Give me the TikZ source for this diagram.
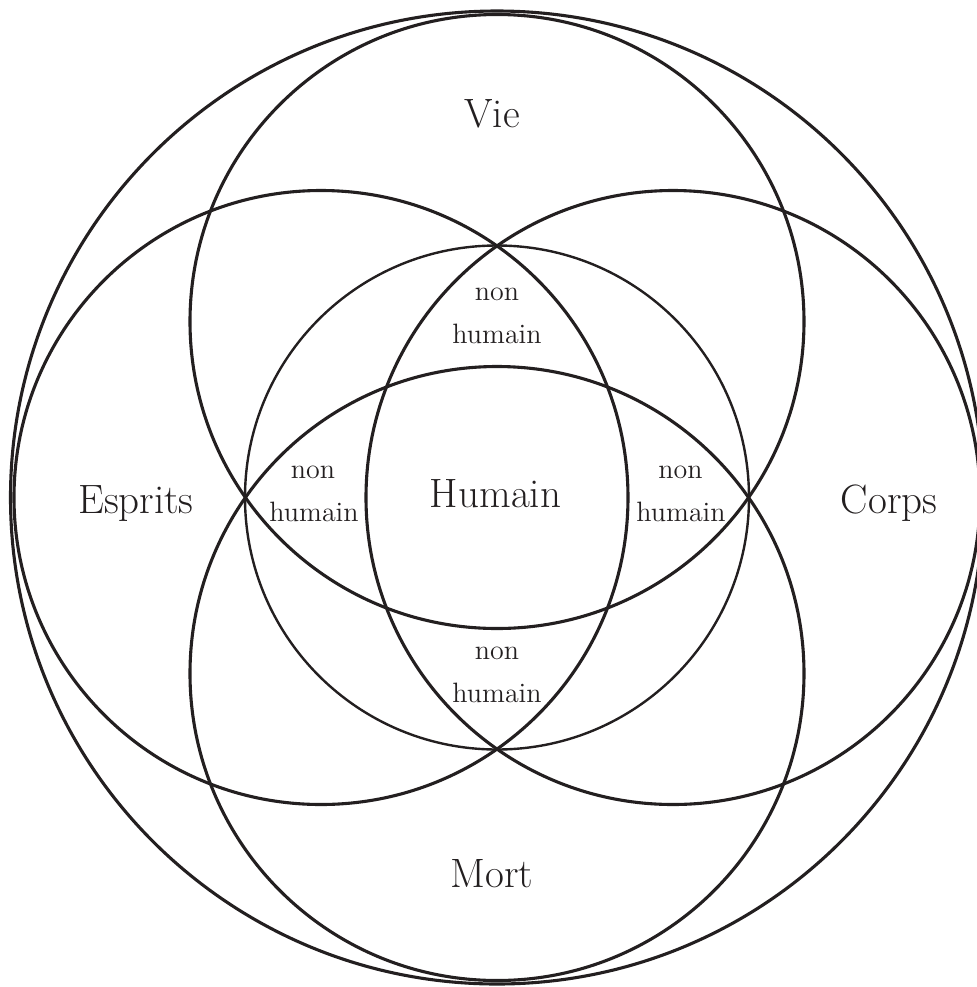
\documentclass[tikz,border=0pt]{standalone}
\definecolor{ink}{HTML}{231F20}
\begin{document}
\begin{tikzpicture}[x=0.5pt,y=-0.5pt,
  petal/.style={draw=ink,line width=1.55pt},
  midring/.style={draw=ink,line width=1.2pt},
  lab/.style={text=ink,inner sep=0pt,anchor=base,font=\fontsize{20.5}{24}\selectfont},
  small/.style={text=ink,inner sep=0pt,anchor=base,font=\fontsize{14}{17}\selectfont}]
\useasboundingbox (0,0) rectangle (977,987);
\clip (0,0) rectangle (977,987);
\coordinate (O) at (497,497.5);
\coordinate (cV) at (497,321.5);
\coordinate (cM) at (497,673.5);
\coordinate (cE) at (321,497.5);
\coordinate (cC) at (673,497.5);
% outer circle
\draw[petal] (O) circle[radius=243.25pt];
% four petal circles
\draw[petal] (cV) circle[radius=153.5pt];
\draw[petal] (cM) circle[radius=153.5pt];
\draw[petal] (cE) circle[radius=153.5pt];
\draw[petal] (cC) circle[radius=153.5pt];
% middle circle
\draw[midring] (O) circle[radius=126pt];
% labels
\node[lab] (vie) at (492,127) {Vie};
\node[lab] (mort) at (492,887) {Mort};
\node[lab] (esprits) at (136,513) {Esprits};
\node[lab] (corps) at (889,513) {Corps};
\node[lab] (humain) at (495.5,507) {Humain};
\node[small] (nT) at (497,300) {non};
\node[small] (hT) at (497,343) {humain};
\node[small] (nL) at (313,478) {non};
\node[small] (hL) at (314,521) {humain};
\node[small] (nR) at (680.5,478) {non};
\node[small] (hR) at (681,521) {humain};
\node[small] (nB) at (497,659) {non};
\node[small] (hB) at (497,702) {humain};
\end{tikzpicture}
\end{document}
